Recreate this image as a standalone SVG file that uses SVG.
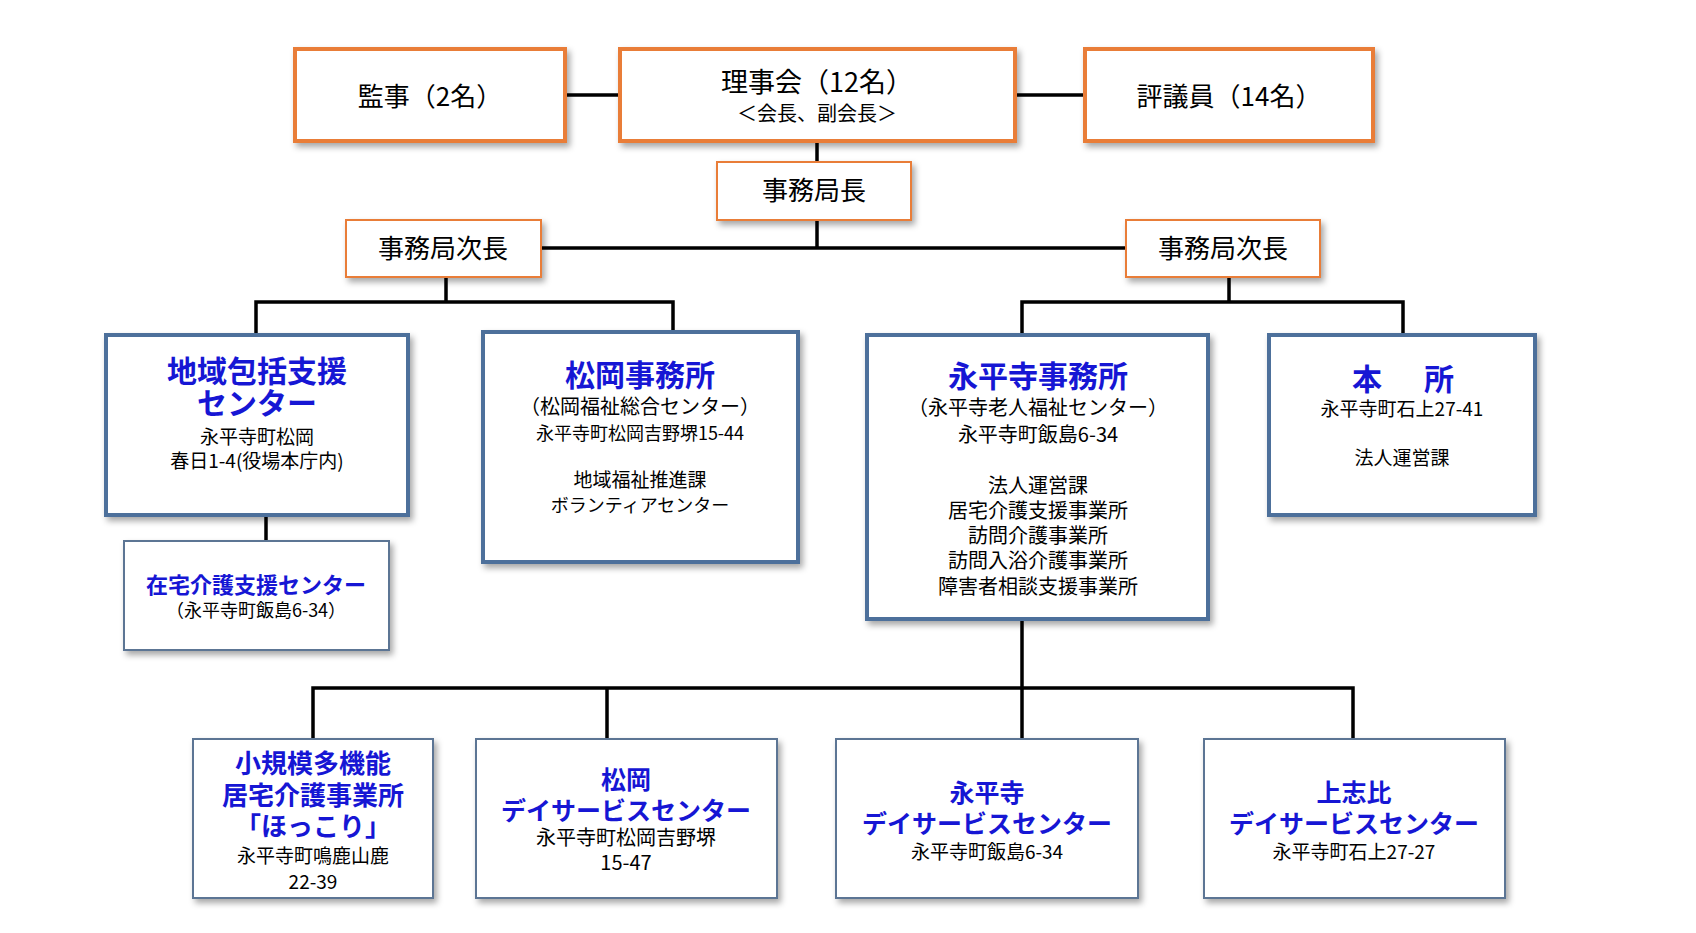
<svg xmlns="http://www.w3.org/2000/svg" width="1696" height="933" viewBox="0 0 1696 933">
<defs>
<filter id="sh" x="-10%" y="-10%" width="130%" height="130%">
<feDropShadow dx="3" dy="4" stdDeviation="3" flood-color="#000" flood-opacity="0.35"/>
</filter>
<style>
text{font-family:"Noto Sans CJK JP","Noto Sans",sans-serif;text-anchor:middle;fill:#000}
.o4{fill:#fff;stroke:#E97D37;stroke-width:4;filter:url(#sh)}
.o2{fill:#fff;stroke:#E97D37;stroke-width:2;filter:url(#sh)}
.b4{fill:#fff;stroke:#4D6F9B;stroke-width:4;filter:url(#sh)}
.b2{fill:#fff;stroke:#5B7594;stroke-width:2;filter:url(#sh)}
.t{font-weight:bold;fill:#1616D4}
.c line,.c path{stroke:#000;stroke-width:3.5;fill:none}
</style>
</defs>
<rect width="1696" height="933" fill="#fff"/>
<g class="c" id="connectors">
<line x1="565" y1="95" x2="620" y2="95"/>
<line x1="1015" y1="95" x2="1085" y2="95"/>
<line x1="817" y1="141" x2="817" y2="162"/>
<line x1="817" y1="220" x2="817" y2="248"/>
<line x1="541" y1="248" x2="1126" y2="248"/>
<path d="M446 277V302M256 335V302H673V335"/>
<path d="M1229 277V302M1022 335V302H1403V335"/>
<line x1="266" y1="515" x2="266" y2="541"/>
<line x1="1022" y1="619" x2="1022" y2="739"/>
<path d="M313 739V688H1353V739M607 688V739"/>
</g>
<g id="kanji"><rect class="o4" x="295" y="49" width="270" height="92"/><text x="430" y="106" font-size="26">監事（2名）</text></g>
<g id="rijikai"><rect class="o4" x="620" y="49" width="395" height="92"/><text x="817" y="92" font-size="27">理事会（12名）</text><text x="817" y="121" font-size="20">＜会長、副会長＞</text></g>
<g id="hyogiin"><rect class="o4" x="1085" y="49" width="288" height="92"/><text x="1229" y="106" font-size="26">評議員（14名）</text></g>
<g id="jimukyokucho"><rect class="o2" x="717" y="162" width="194" height="58"/><text x="814" y="200" font-size="26">事務局長</text></g>
<g id="jicho-left"><rect class="o2" x="346" y="220" width="195" height="57"/><text x="443" y="258" font-size="26">事務局次長</text></g>
<g id="jicho-right"><rect class="o2" x="1126" y="220" width="194" height="57"/><text x="1223" y="258" font-size="26">事務局次長</text></g>
<g id="chiiki"><rect class="b4" x="106" y="335" width="302" height="180"/>
<text class="t" x="257" y="382" font-size="30">地域包括支援</text>
<text class="t" x="257" y="414" font-size="30">センター</text>
<text x="257" y="444" font-size="19">永平寺町松岡</text>
<text x="257" y="468" font-size="19">春日1-4(役場本庁内)</text></g>
<g id="zaitaku"><rect class="b2" x="124" y="541" width="265" height="109"/>
<text class="t" x="256" y="593" font-size="22">在宅介護支援センター</text>
<text x="256" y="617" font-size="18">（永平寺町飯島6-34）</text></g>
<g id="matsuoka"><rect class="b4" x="483" y="332" width="315" height="230"/>
<text class="t" x="640" y="386" font-size="30">松岡事務所</text>
<text x="640" y="414" font-size="20">（松岡福祉総合センター）</text>
<text x="640" y="440" font-size="18">永平寺町松岡吉野堺15-44</text>
<text x="640" y="487" font-size="19">地域福祉推進課</text>
<text x="640" y="512" font-size="18">ボランティアセンター</text></g>
<g id="eiheiji"><rect class="b4" x="867" y="335" width="341" height="284"/>
<text class="t" x="1038" y="387" font-size="30">永平寺事務所</text>
<text x="1038" y="415" font-size="20">（永平寺老人福祉センター）</text>
<text x="1038" y="442" font-size="20">永平寺町飯島6-34</text>
<text x="1038" y="493" font-size="20">法人運営課</text>
<text x="1038" y="518" font-size="20">居宅介護支援事業所</text>
<text x="1038" y="543" font-size="20">訪問介護事業所</text>
<text x="1038" y="568" font-size="20">訪問入浴介護事業所</text>
<text x="1038" y="594" font-size="20">障害者相談支援事業所</text></g>
<g id="honsho"><rect class="b4" x="1269" y="335" width="266" height="180"/>
<text class="t" x="1367" y="390" font-size="30">本</text><text class="t" x="1439" y="390" font-size="30">所</text>
<text x="1402" y="416" font-size="19">永平寺町石上27-41</text>
<text x="1402" y="465" font-size="19">法人運営課</text></g>
<g id="shokibo"><rect class="b2" x="193" y="739" width="240" height="159"/>
<text class="t" x="313" y="773" font-size="26">小規模多機能</text>
<text class="t" x="313" y="805" font-size="26">居宅介護事業所</text>
<text class="t" x="313" y="836" font-size="26">「ほっこり」</text>
<text x="313" y="863" font-size="19">永平寺町鳴鹿山鹿</text>
<text x="313" y="889" font-size="19">22-39</text></g>
<g id="matsuoka-day"><rect class="b2" x="476" y="739" width="301" height="159"/>
<text class="t" x="626" y="789" font-size="25">松岡</text>
<text class="t" x="626" y="820" font-size="25">デイサービスセンター</text>
<text x="626" y="845" font-size="20">永平寺町松岡吉野堺</text>
<text x="626" y="870" font-size="20">15-47</text></g>
<g id="eiheiji-day"><rect class="b2" x="836" y="739" width="302" height="159"/>
<text class="t" x="987" y="802" font-size="25">永平寺</text>
<text class="t" x="987" y="833" font-size="25">デイサービスセンター</text>
<text x="987" y="859" font-size="19">永平寺町飯島6-34</text></g>
<g id="kamishihi-day"><rect class="b2" x="1204" y="739" width="301" height="159"/>
<text class="t" x="1354" y="802" font-size="25">上志比</text>
<text class="t" x="1354" y="833" font-size="25">デイサービスセンター</text>
<text x="1354" y="859" font-size="19">永平寺町石上27-27</text></g>
</svg>
